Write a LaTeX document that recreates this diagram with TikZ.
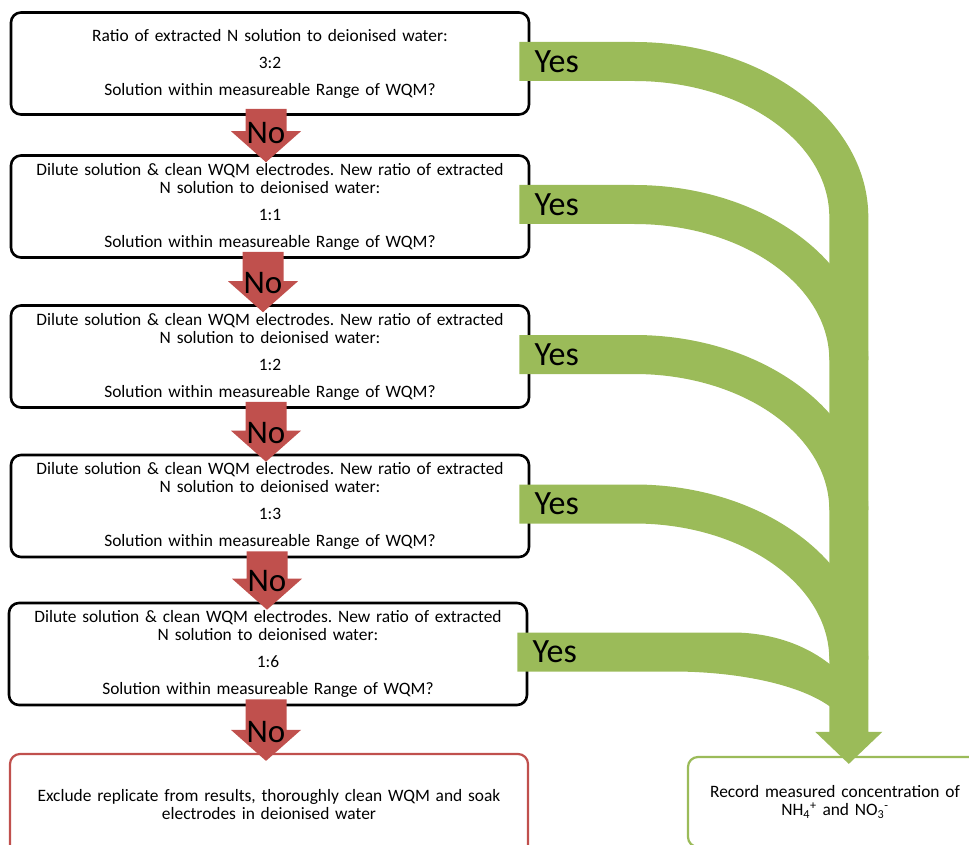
\documentclass[tikz,border=0pt]{standalone}
\usepackage{fontspec}
\setmainfont{Carlito}
\usetikzlibrary{calc}
\frenchspacing

\definecolor{nored}{HTML}{C0504D}
\definecolor{yesgreen}{HTML}{9BBB59}

% red "No" block arrow: from box, to box, xshift
\newcommand\noarrow[3]{%
  \coordinate (nt) at ($(#1.south)+(#3,-7)$);
  \coordinate (np) at ($(nt |- #2.north)+(0,8)$);
  \fill[nored] ($(nt)+(-20.5,0)$) -- ($(nt)+(20.5,0)$) -- ($(np)+(20.5,-31)$) -- ($(np)+(35,-31)$)
    -- (np) -- ($(np)+(-35,-31)$) -- ($(np)+(-20.5,-31)$) -- cycle;
  \node[nolabel] at ($(np)+(0,-29)$) {No};
}

% green "Yes" band: box, straight, outer a, outer b, straight inner, inner a, inner b
\newcommand\yesarrow[7]{%
  \coordinate (ys) at ($(#1.east)+(-11,-21.5)$);
  \fill[yesgreen] (ys) -- ++(#2,0)
    .. controls +(0.5523*#3,0) and +(0,-0.5523*#4) .. ++(#3,#4) coordinate (#1y)
    -- ($(ys)+(#5+#6,#4)$)
    .. controls +(0,-0.5523*#7) and +(0.5523*#6,0) .. ++(-#6,-#7)
    -- ($(ys)+(0,39)$) -- cycle;
  \node[yeslabel] at ($(ys)+(15,19.5)$) {Yes};
}

\begin{document}
\begin{tikzpicture}[x=1pt,y=-1pt,
  qbox/.style={draw, line width=2.6pt, rounded corners=10pt, minimum width=518pt,
    minimum height=102pt, inner sep=4pt, text width=508pt, align=center,
    font=\fontsize{17.4}{18}\selectfont},
  stopbox/.style={qbox, draw=nored, line width=2.2pt},
  recbox/.style={qbox, draw=yesgreen, line width=2.2pt, minimum width=294pt,
    text width=284pt, minimum height=90pt},
  nolabel/.style={font=\fontsize{33}{33}\selectfont, inner sep=0pt},
  yeslabel/.style={font=\fontsize{34}{34}\selectfont, inner sep=0pt, anchor=west}]

\useasboundingbox (0,0) rectangle (969,845);
\clip (0,0) rectangle (969,845);

\node[qbox] (b1) at (270,63.5) {Ratio of extracted N solution to deionised water:\\[9pt]
  3:2\\[9pt] Solution within measureable Range of WQM?};
\node[qbox] (b2) at (270,206.5) {Dilute solution \& clean WQM electrodes. New ratio of extracted\\
  N solution to deionised water:\\[9pt] 1:1\\[9pt] Solution within measureable Range of WQM?};
\node[qbox] (b3) at (270,356.5) {Dilute solution \& clean WQM electrodes. New ratio of extracted\\
  N solution to deionised water:\\[9pt] 1:2\\[9pt] Solution within measureable Range of WQM?};
\node[qbox] (b4) at (270,506) {Dilute solution \& clean WQM electrodes. New ratio of extracted\\
  N solution to deionised water:\\[9pt] 1:3\\[9pt] Solution within measureable Range of WQM?};
\node[qbox] (b5) at (268,654) {Dilute solution \& clean WQM electrodes. New ratio of extracted\\
  N solution to deionised water:\\[9pt] 1:6\\[9pt] Solution within measureable Range of WQM?};

\node[stopbox] (ex) at (269,805) {Exclude replicate from results, thoroughly clean WQM and soak\\
  electrodes in deionised water};
\node[recbox] (g) at (835,802) {Record measured concentration of\\
  NH\textsubscript{4}\textsuperscript{+} and NO\textsubscript{3}\textsuperscript{-}};

%\draw[help lines] (0,0) grid[step=50] (969,845);

\noarrow{b1}{b2}{-4}
\noarrow{b2}{b3}{-7}
\noarrow{b3}{b4}{-4}
\noarrow{b4}{b5}{-3}
\noarrow{b5}{ex}{-2}

\yesarrow{b1}{115}{234}{175}{115}{195}{136}
\yesarrow{b2}{115}{234}{175}{115}{195}{136}
\yesarrow{b3}{115}{234}{175}{115}{195}{136}
\yesarrow{b4}{115}{234}{175}{115}{195}{136}
\yesarrow{b5}{215}{134}{101}{155}{175}{62}

% trunk down to the record box
\coordinate (tip) at ($(b1y |- g.north)+(-19.5,8)$);
\fill[yesgreen] ($(b1y)+(-39,0)$) -- (b1y) -- ($(tip)+(19.5,-32)$) -- ($(tip)+(33.5,-32)$)
  -- (tip) -- ($(tip)+(-33.5,-32)$) -- ($(tip)+(-19.5,-32)$) -- cycle;

\end{tikzpicture}
\end{document}
